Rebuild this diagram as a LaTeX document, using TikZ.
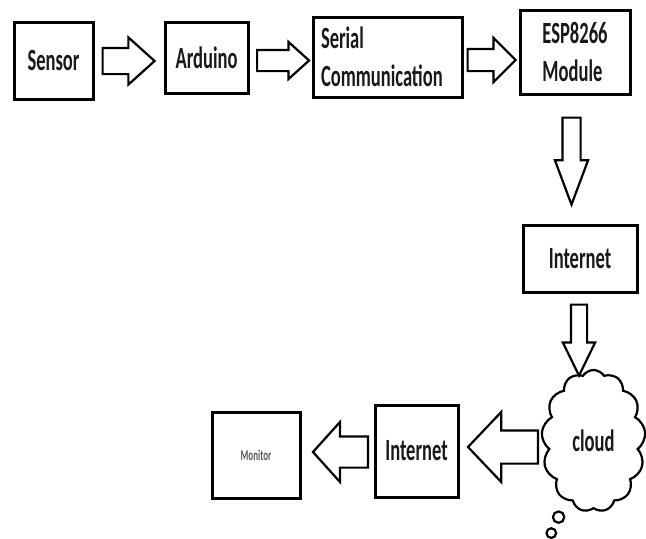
\documentclass[tikz,border=0pt]{standalone}
\usepackage{fontspec}
\setmainfont{Carlito}[FakeStretch=0.6]
\usetikzlibrary{calc,shapes.arrows,shapes.symbols,shapes.callouts}

\begin{document}
\begin{tikzpicture}[font=\bfseries\fontsize{31}{38}\selectfont,join=miter]
 \tikzstyle{box}=[draw=black,line width=3bp,fill=white,text=black!90,inner sep=0pt]
 \tikzstyle{blockarrow}=[single arrow,draw=black,line width=2.2bp,fill=white,inner xsep=0pt]
 \useasboundingbox (0bp,0bp) rectangle (646bp,-539bp);

 \node (sensor) at (53.5bp,-60.5bp) [box,minimum width=79bp,minimum height=77bp] {Sensor};
 \node (arduino) at (206.5bp,-57.5bp) [box,minimum width=83bp,minimum height=71bp] {Arduino};
 \node (serial) at (387.5bp,-57bp) [box,minimum width=149bp,minimum height=80bp,text width=133bp,align=left] {Serial\\Communication};
 \node (esp) at (575bp,-52bp) [box,minimum width=110bp,minimum height=84bp,align=left] {ESP8266\\Module};
 \node (internetA) at (580bp,-258.5bp) [box,minimum width=114bp,minimum height=67bp] {Internet};
 \node (cloud) at (593.5bp,-441bp) [cloud callout,draw=black,line width=2.2bp,fill=white,text=black!90,
 	cloud puffs=13,cloud puff arc=115,cloud ignores aspect,minimum width=104bp,minimum height=142bp,
 	callout absolute pointer={(544bp,-549bp)},callout pointer start size=13bp,callout pointer end size=8bp,
 	callout pointer segments=3] {cloud};
 \node (internetB) at (416.5bp,-451bp) [box,minimum width=83bp,minimum height=92bp] {Internet};
 \node (monitor) at (256bp,-455bp) [box,minimum width=88bp,minimum height=86bp,
 	font=\bfseries\fontsize{15}{17}\selectfont,text=black!65] {Monitor};

 % block arrows between the boxes
 \node (arrowA) at ($(sensor.east)+(7bp,-0.5bp)$) [blockarrow,anchor=tail,inner ysep=12bp,minimum height=52bp,minimum width=47bp,single arrow head extend=10.5bp,single arrow tip angle=84] {};
 \node (arrowB) at ($(arduino.east)+(6.5bp,-3bp)$) [blockarrow,anchor=tail,inner ysep=9.5bp,minimum height=52bp,minimum width=37bp,single arrow head extend=8bp,single arrow tip angle=84] {};
 \node (arrowC) at ($(serial.east)+(3bp,-3bp)$) [blockarrow,anchor=tail,inner ysep=10bp,minimum height=48bp,minimum width=44bp,single arrow head extend=11bp,single arrow tip angle=90] {};
 \node (arrowD) at ($(esp.south)+(-3.5bp,-21bp)$) [blockarrow,anchor=tail,rotate=-90,inner ysep=8bp,minimum height=87bp,minimum width=33bp,single arrow head extend=7.5bp,single arrow tip angle=41] {};
 \node (arrowE) at ($(internetA.south)+(-1bp,-10bp)$) [blockarrow,anchor=tail,rotate=-90,inner ysep=7bp,minimum height=71bp,minimum width=32bp,single arrow head extend=8bp,single arrow tip angle=52] {};
 \node (arrowF) at ($(internetB.east)+(7bp,4bp)$) [blockarrow,anchor=tip,rotate=180,inner ysep=15.5bp,minimum height=70bp,minimum width=70bp,single arrow head extend=18.5bp,single arrow tip angle=93] {};
 \node (arrowG) at ($(monitor.east)+(10bp,3bp)$) [blockarrow,anchor=tip,rotate=180,inner ysep=14.5bp,minimum height=55bp,minimum width=60bp,single arrow head extend=14.5bp,single arrow tip angle=96] {};
\end{tikzpicture}
\end{document}
